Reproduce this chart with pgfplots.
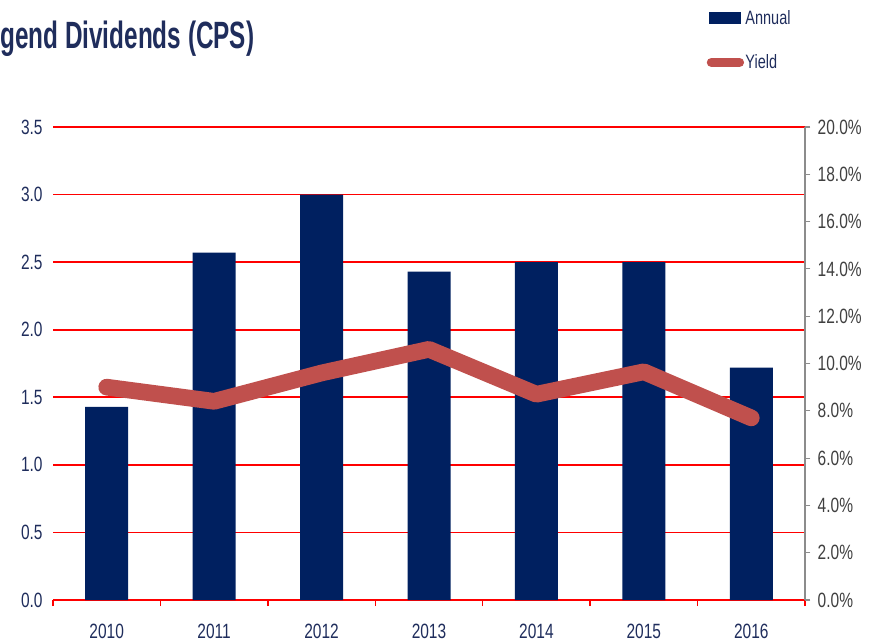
\documentclass[border=0pt]{standalone}
\usepackage{fontspec}
\setmainfont{Liberation Sans}[FakeStretch=0.75]
\newfontfamily\titlefont{Liberation Sans}[FakeStretch=0.64]
\usepackage{pgfplots}
\pgfplotsset{compat=1.18}
\definecolor{navy}{HTML}{002060}
\definecolor{labnavy}{HTML}{1F2D5C}
\definecolor{linered}{HTML}{C0504D}
\definecolor{gridred}{HTML}{FF0000}
\definecolor{axgray}{HTML}{8C8C8C}
\definecolor{labgray}{HTML}{404040}
\begin{document}
\begin{tikzpicture}
\useasboundingbox (0,0) rectangle (656.25pt,-481.5pt);
\node[anchor=base west, inner sep=0pt, font=\titlefont\bfseries\fontsize{28.5}{32}\selectfont, text=labnavy] at (0pt,-36.5pt) {gend Dividends (CPS)};
\begin{axis}[
  at={(39.75pt,-450pt)}, anchor=south west,
  scale only axis, width=564pt, height=354.75pt,
  xmin=-0.5, xmax=6.5, ymin=0, ymax=3.5,
  axis x line*=bottom, axis y line*=left,
  y axis line style={draw=none},
  x axis line style={gridred, line width=1.3pt, -},
  xtick={0,...,6},
  xticklabels={2010,2011,2012,2013,2014,2015,2016},
  minor xtick={-0.5,0.5,...,6.5},
  minor tick length=4.5pt,
  major x tick style={draw=none},
  minor x tick style={gridred, line width=1pt},
  y tick style={draw=none},
  tick align=outside,
  ytick={0,0.5,...,3.5},
  ymajorgrids,
  grid style={gridred, line width=1.3pt},
  /pgf/number format/assume math mode=true,
  yticklabel style={/pgf/number format/.cd, fixed, fixed zerofill, precision=1},
  ticklabel style={font=\fontsize{15.5}{18}\selectfont, text=labnavy},
  xticklabel style={yshift=-10pt},
  legend style={at={(0.869,1.250)}, anchor=north west, draw=none, fill=none,
    font=\fontsize{14.5}{17}\selectfont, text=labnavy, row sep=19pt, inner sep=0pt,
    column sep=0pt, nodes={inner sep=1pt}, legend cell align=left},
]
\addplot[ybar, bar width=32.25pt, fill=navy, draw=none,
  legend image code/.code={\fill[navy] (2pt,-4.5pt) rectangle (26pt,4.5pt);}]
  coordinates {(0,1.43) (1,2.57) (2,3.0) (3,2.43) (4,2.5) (5,2.5) (6,1.72)};
\addlegendentry{Annual}
\addlegendimage{legend image code/.code={\draw[linered, line width=7pt, line cap=round] (3.5pt,0pt) -- (24.5pt,0pt);}}
\addlegendentry{Yield}
\end{axis}
\begin{axis}[
  at={(39.75pt,-450pt)}, anchor=south west,
  scale only axis, width=564pt, height=354.75pt,
  xmin=-0.5, xmax=6.5, ymin=0, ymax=20,
  axis x line=none, axis y line*=right,
  y axis line style={axgray, line width=0.8pt, -},
  ytick={0,2,...,20},
  major tick length=4pt, tick align=outside,
  y tick style={axgray, line width=0.8pt},
  /pgf/number format/assume math mode=true,
  yticklabel={\pgfmathprintnumber[fixed, fixed zerofill, precision=1]{\tick}\%},
  yticklabel style={font=\fontsize{15.5}{18}\selectfont, text=labgray, xshift=2pt},
]
\addplot[linered, line width=12.5pt, line cap=round, line join=round, mark=none]
  coordinates {(0,9.0) (1,8.4) (2,9.6) (3,10.6) (4,8.7) (5,9.65) (6,7.7)};
\end{axis}
\end{tikzpicture}
\end{document}
